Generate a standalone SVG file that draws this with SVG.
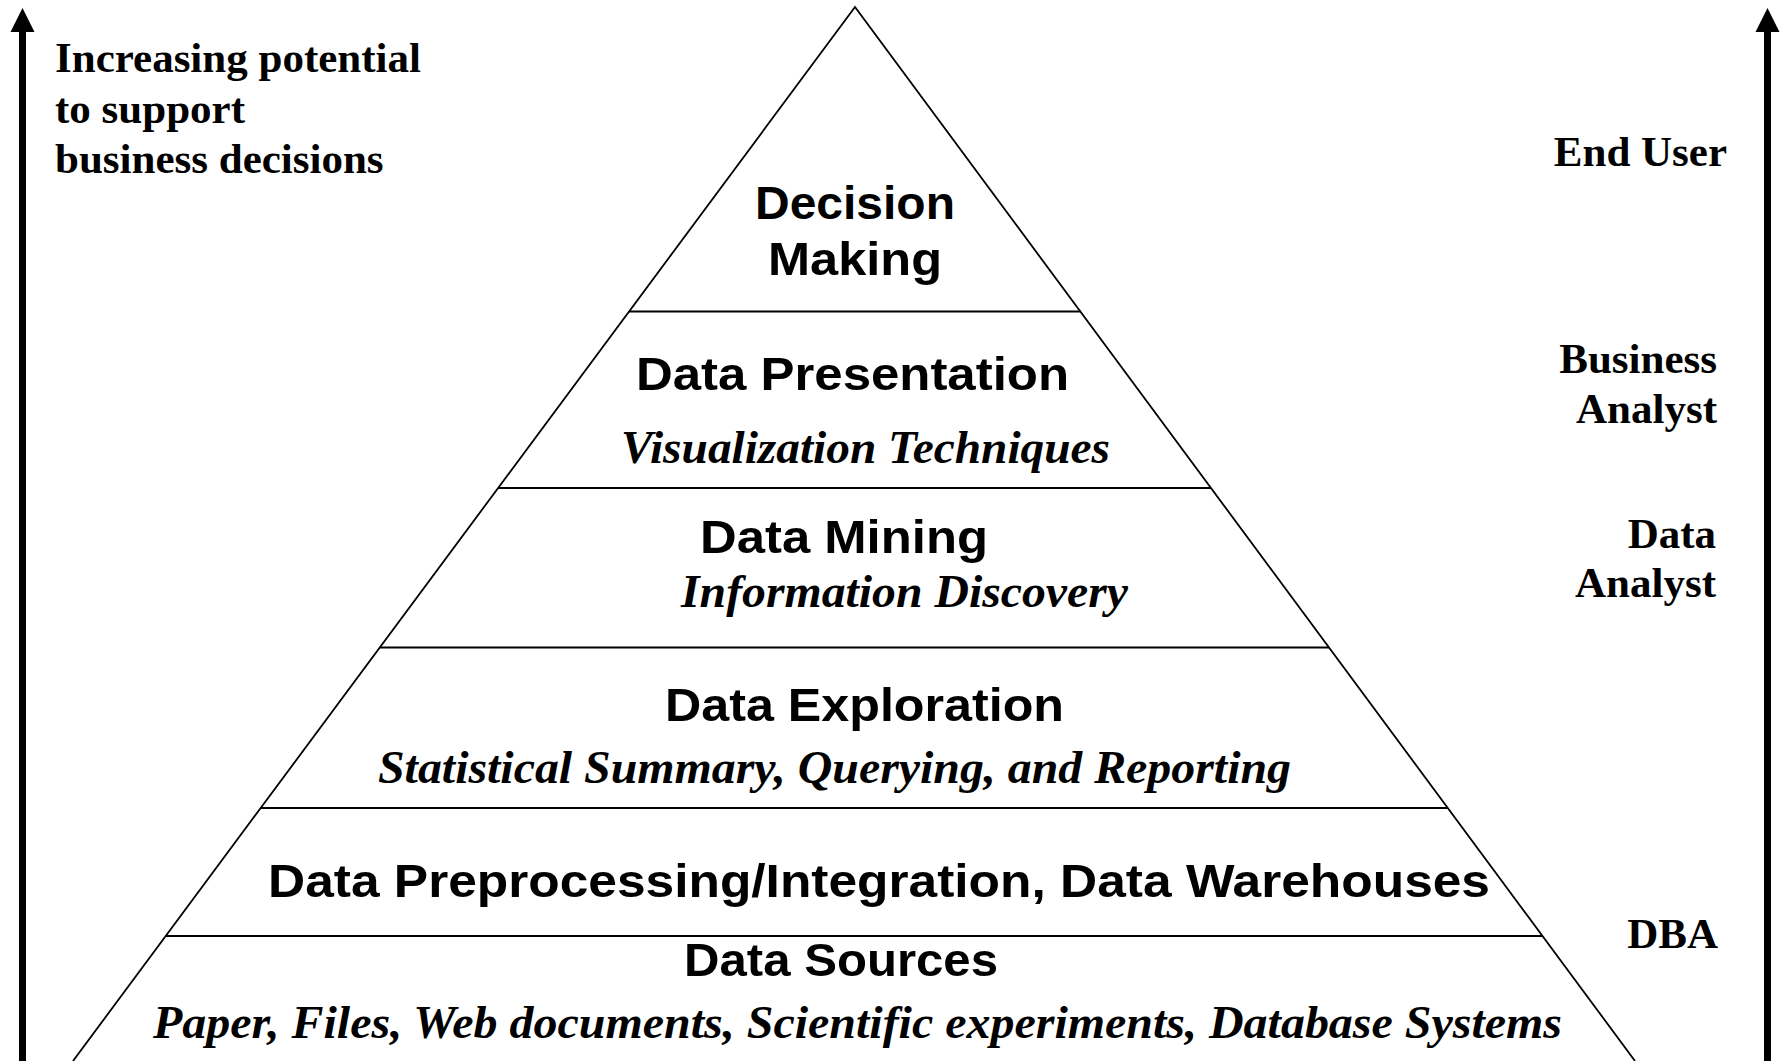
<svg xmlns="http://www.w3.org/2000/svg" width="1789" height="1061" viewBox="0 0 1789 1061">
<style>
.edge{stroke:#000;stroke-width:1.8;fill:none}
.tier{stroke:#000;stroke-width:2.2}
.axis{stroke:#000;stroke-width:7}
.head{fill:#000}
.h{font-family:"Liberation Sans",Arial,sans-serif;font-weight:bold;font-size:47px;fill:#000}
.s{font-family:"Liberation Serif","Times New Roman",serif;font-weight:bold;font-style:italic;font-size:47px;fill:#000}
.lbl{font-family:"Liberation Serif","Times New Roman",serif;font-weight:bold;font-size:43px;fill:#000}
</style>
<rect width="1789" height="1061" fill="#fff"/>
<g id="connectors">
<line class="axis" x1="22.5" y1="30" x2="22.5" y2="1061"/>
<polygon class="head" points="10.5,32 22.5,8 34.5,32"/>
<line class="axis" x1="1767.5" y1="30" x2="1767.5" y2="1061"/>
<polygon class="head" points="1755.5,32 1767.5,8 1779.5,32"/>
</g>
<g id="pyramid">
<polyline class="edge" points="73,1061 855,7 1635,1061"/>
</g>
<g id="decision-making">
<line class="tier" x1="629" y1="311.5" x2="1080.5" y2="311.5"/>
<text class="h" x="755" y="219" textLength="200" lengthAdjust="spacingAndGlyphs">Decision</text>
<text class="h" x="768" y="275" textLength="174" lengthAdjust="spacingAndGlyphs">Making</text>
</g>
<g id="data-presentation">
<line class="tier" x1="498" y1="488" x2="1211" y2="488"/>
<text class="h" x="636" y="390" textLength="433" lengthAdjust="spacingAndGlyphs">Data Presentation</text>
<text class="s" x="621" y="463" textLength="489" lengthAdjust="spacingAndGlyphs">Visualization Techniques</text>
</g>
<g id="data-mining">
<line class="tier" x1="379.5" y1="647.5" x2="1329" y2="647.5"/>
<text class="h" x="700" y="553" textLength="288" lengthAdjust="spacingAndGlyphs">Data Mining</text>
<text class="s" x="681" y="607" textLength="447" lengthAdjust="spacingAndGlyphs">Information Discovery</text>
</g>
<g id="data-exploration">
<line class="tier" x1="260.5" y1="808" x2="1448" y2="808"/>
<text class="h" x="665" y="721" textLength="399" lengthAdjust="spacingAndGlyphs">Data Exploration</text>
<text class="s" x="378" y="783" textLength="913" lengthAdjust="spacingAndGlyphs">Statistical Summary, Querying, and Reporting</text>
</g>
<g id="data-preprocessing">
<line class="tier" x1="166" y1="936" x2="1542.5" y2="936"/>
<text class="h" x="268" y="897" textLength="1222" lengthAdjust="spacingAndGlyphs">Data Preprocessing/Integration, Data Warehouses</text>
</g>
<g id="data-sources">
<text class="h" x="684" y="976" textLength="314" lengthAdjust="spacingAndGlyphs">Data Sources</text>
<text class="s" x="153" y="1038" textLength="1409" lengthAdjust="spacingAndGlyphs">Paper, Files, Web documents, Scientific experiments, Database Systems</text>
</g>
<g id="left-label">
<text class="lbl" x="55" y="72">Increasing potential</text>
<text class="lbl" x="55" y="122.5">to support</text>
<text class="lbl" x="55" y="173">business decisions</text>
</g>
<g id="roles">
<text class="lbl" x="1727" y="166" text-anchor="end">End User</text>
<text class="lbl" x="1717" y="373" text-anchor="end">Business</text>
<text class="lbl" x="1717" y="423" text-anchor="end">Analyst</text>
<text class="lbl" x="1716" y="548" text-anchor="end">Data</text>
<text class="lbl" x="1716" y="597" text-anchor="end">Analyst</text>
<text class="lbl" x="1718" y="948" text-anchor="end">DBA</text>
</g>
</svg>
